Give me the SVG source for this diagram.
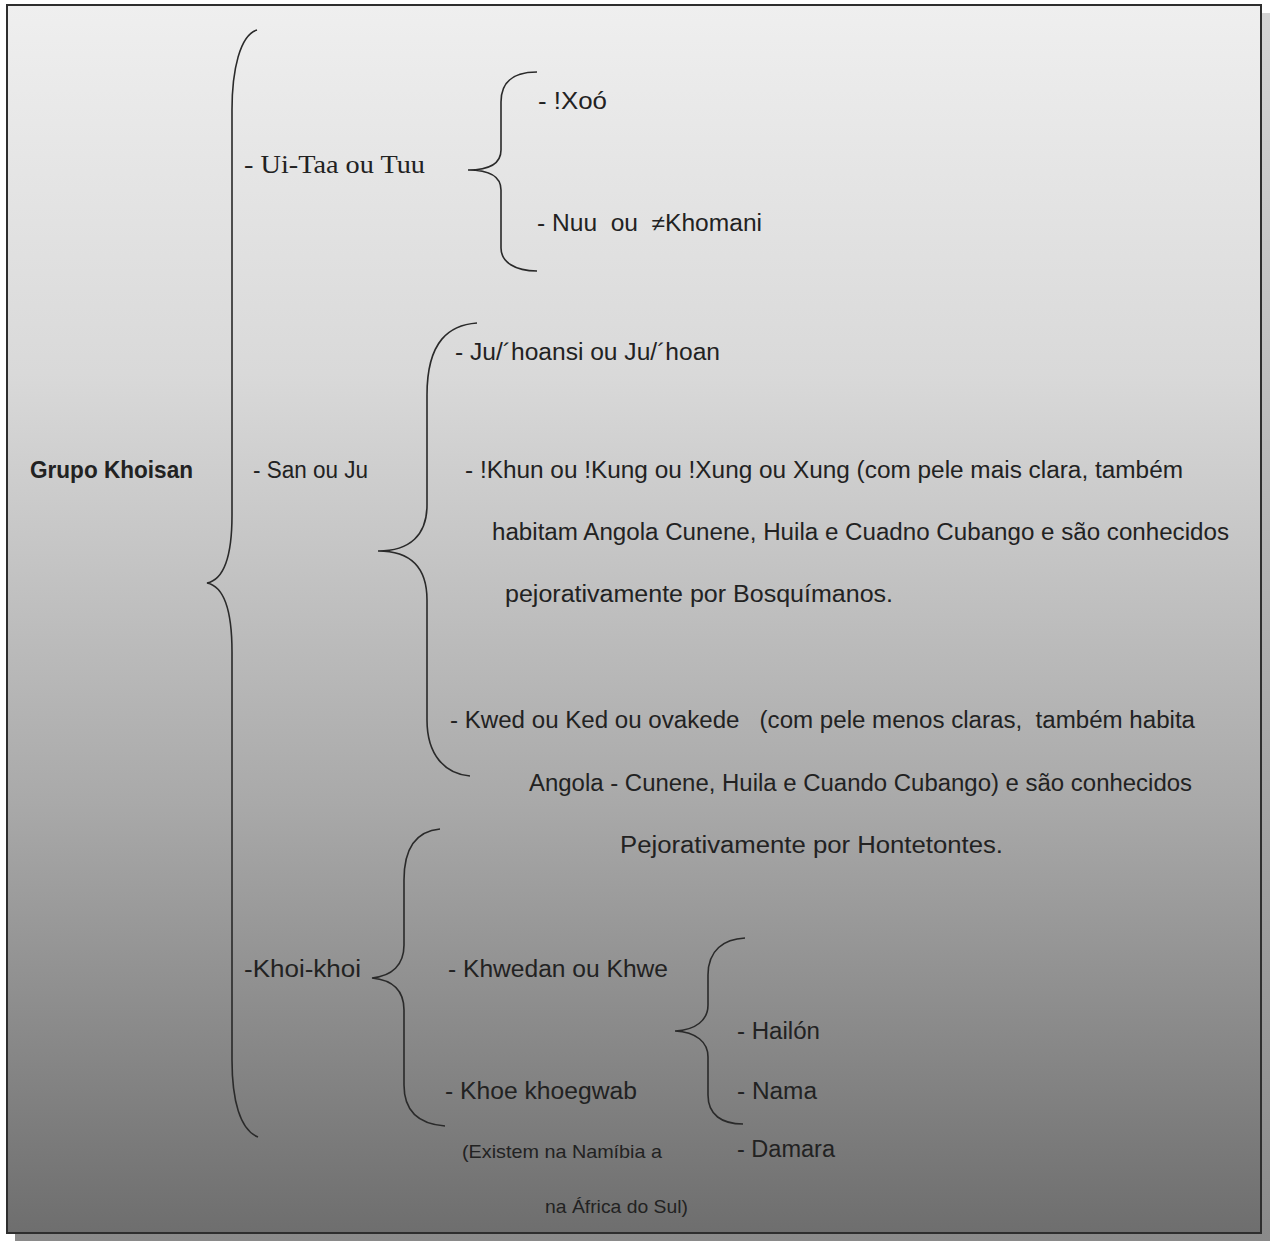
<svg xmlns="http://www.w3.org/2000/svg" width="1275" height="1241" viewBox="0 0 1275 1241">
<defs>
<linearGradient id="bg" x1="0" y1="0" x2="0" y2="1">
<stop offset="0" stop-color="#efefef"/>
<stop offset="0.3" stop-color="#d9d9d9"/>
<stop offset="0.65" stop-color="#a9a9a9"/>
<stop offset="1" stop-color="#6e6e6e"/>
</linearGradient>
<linearGradient id="sh" x1="0" y1="0" x2="0" y2="1">
<stop offset="0" stop-color="#d4d4d4"/>
<stop offset="1" stop-color="#8a8a8a"/>
</linearGradient>
</defs>
<style>
.t{font-family:"Liberation Sans",Arial,sans-serif;font-size:23px;fill:#222;white-space:pre}
.b{font-weight:bold}
.s{font-size:19px}
.serif{font-family:"Liberation Serif","Times New Roman",serif;font-size:26px;fill:#222}
.br{fill:none;stroke:#2a2a2a;stroke-width:1.6}
</style>
<rect x="0" y="0" width="1275" height="1241" fill="#ffffff"/>
<rect x="15" y="13" width="1255" height="1228" fill="url(#sh)"/>
<rect x="7" y="5" width="1254" height="1228" fill="url(#bg)" stroke="#2e2e2e" stroke-width="2"/>

<g id="connectors">
<path class="br" d="M257,30 C240,35 232,70 232,110 L232,515 C232,560 222,580 207,583 C222,586 232,606 232,652 L232,1060 C232,1100 240,1130 258,1137"/>
<path class="br" d="M537,72 C515,72 501,80 501,102 L501,150 C501,163 490,170 468,170 C490,170 501,177 501,190 L501,248 C501,262 515,271 537,271"/>
<path class="br" d="M477,323 C450,325 427,340 427,395 L427,505 C427,535 410,551 378,551 C410,551 427,567 427,600 L427,720 C427,755 445,774 470,776"/>
<path class="br" d="M440,829 C418,831 404,845 404,880 L404,945 C404,965 392,976 372,978 C392,980 404,990 404,1010 L404,1085 C404,1110 418,1124 445,1126"/>
<path class="br" d="M745,938 C724,939 708,950 708,975 L708,1005 C708,1020 696,1030 675,1031 C696,1032 708,1042 708,1057 L708,1095 C708,1115 722,1124 743,1124"/>
</g>

<g id="root"><text class="t b" x="30" y="478" textLength="163" lengthAdjust="spacingAndGlyphs">Grupo Khoisan</text></g>

<g id="uitaa"><text class="serif" x="244" y="173" textLength="181" lengthAdjust="spacingAndGlyphs">- Ui-Taa ou Tuu</text></g>
<g id="xoo"><text class="t" x="538" y="109" textLength="69" lengthAdjust="spacingAndGlyphs">- !Xoó</text></g>
<g id="nuu"><text class="t" x="537" y="231" textLength="225" lengthAdjust="spacingAndGlyphs">- Nuu  ou  ≠Khomani</text></g>

<g id="san"><text class="t" x="253" y="478" textLength="115" lengthAdjust="spacingAndGlyphs">- San ou Ju</text></g>
<g id="juhoansi"><text class="t" x="455" y="360" textLength="265" lengthAdjust="spacingAndGlyphs">- Ju/´hoansi ou Ju/´hoan</text></g>
<g id="khun">
<text class="t" x="465" y="478" textLength="718" lengthAdjust="spacingAndGlyphs">- !Khun ou !Kung ou !Xung ou Xung (com pele mais clara, também</text>
<text class="t" x="492" y="540" textLength="737" lengthAdjust="spacingAndGlyphs">habitam Angola Cunene, Huila e Cuadno Cubango e são conhecidos</text>
<text class="t" x="505" y="602" textLength="388" lengthAdjust="spacingAndGlyphs">pejorativamente por Bosquímanos.</text>
</g>
<g id="kwed">
<text class="t" x="450" y="728" textLength="745" lengthAdjust="spacingAndGlyphs">- Kwed ou Ked ou ovakede   (com pele menos claras,  também habita</text>
<text class="t" x="529" y="791" textLength="663" lengthAdjust="spacingAndGlyphs">Angola - Cunene, Huila e Cuando Cubango) e são conhecidos</text>
<text class="t" x="620" y="853" textLength="383" lengthAdjust="spacingAndGlyphs">Pejorativamente por Hontetontes.</text>
</g>

<g id="khoikhoi"><text class="t" x="244" y="977" textLength="117" lengthAdjust="spacingAndGlyphs">-Khoi-khoi</text></g>
<g id="khwedan"><text class="t" x="448" y="977" textLength="220" lengthAdjust="spacingAndGlyphs">- Khwedan ou Khwe</text></g>
<g id="khoe">
<text class="t" x="445" y="1099" textLength="192" lengthAdjust="spacingAndGlyphs">- Khoe khoegwab</text>
<text class="t s" x="462" y="1158" textLength="200" lengthAdjust="spacingAndGlyphs">(Existem na Namíbia a</text>
<text class="t s" x="545" y="1213" textLength="143" lengthAdjust="spacingAndGlyphs">na África do Sul)</text>
</g>
<g id="hailon"><text class="t" x="737" y="1039" textLength="83" lengthAdjust="spacingAndGlyphs">- Hailón</text></g>
<g id="nama"><text class="t" x="737" y="1099" textLength="80" lengthAdjust="spacingAndGlyphs">- Nama</text></g>
<g id="damara"><text class="t" x="737" y="1157" textLength="98" lengthAdjust="spacingAndGlyphs">- Damara</text></g>
</svg>
